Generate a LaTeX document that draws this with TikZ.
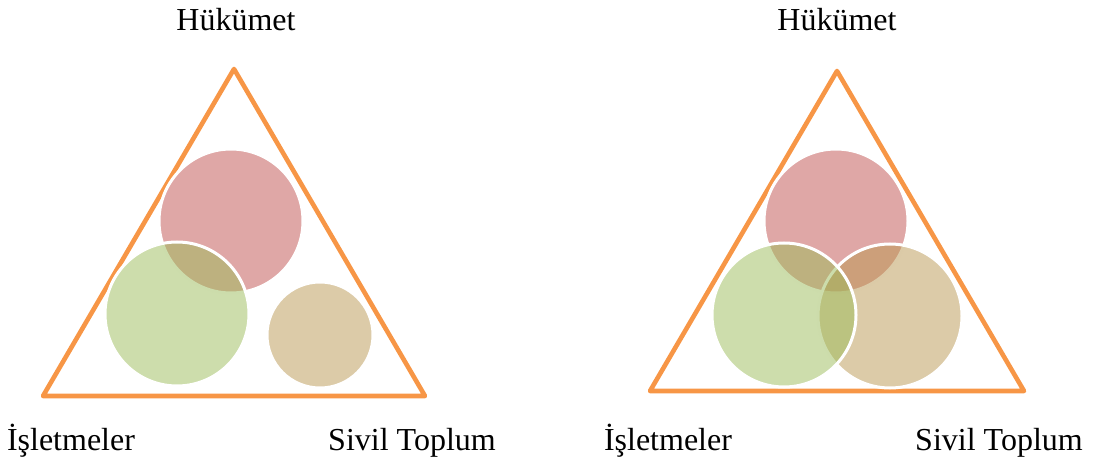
\documentclass[tikz,border=0pt]{standalone}
\usepackage{fontspec}
\setmainfont{Liberation Serif}
\definecolor{colorTri}{HTML}{F79646}
\definecolor{colorGov}{HTML}{C0504D}
\definecolor{colorBiz}{HTML}{9BBB59}
\definecolor{colorCiv}{HTML}{B99751}
\usepackage{tikz}
\tikzset{
  actor/.style={font=\fontsize{16}{19}\selectfont,anchor=base,inner sep=0pt},
  tri/.style={draw=colorTri,line width=2.3pt,line join=round},
  blob/.style={fill opacity=0.5,draw=white,line width=1.5pt},
}

\begin{document}
\begin{tikzpicture}[x=0.5pt,y=-0.5pt]
   \useasboundingbox (0,0) rectangle (1093,470);

   % NODES
   \coordinate (r0) at (234,  69); % apex
   \coordinate (s0) at (43,  396); % corner
   \coordinate (s1) at (425, 396); % corner

   % DRAW TRIANGLE
   \path[tri] (r0)--(s0)--(s1)--cycle;

   % CIRCLES
   \coordinate (g0) at (231, 221); % gov
   \coordinate (b0) at (177, 314); % biz
   \coordinate (v0) at (320, 335); % civil
   \path[blob,fill=colorGov] (g0) circle[radius=72];
   \path[blob,fill=colorCiv] (v0) circle[radius=53];
   \path[blob,fill=colorBiz] (b0) circle[radius=72];

   % LABELS
   \node[actor] (h0) at (236, 31) {Hükümet};
   \node[actor] (i0) at (71, 451) {İşletmeler};
   \node[actor] (t0) at (412, 451) {Sivil Toplum};

   % NODES
   \coordinate (r1) at (837,  71); % apex
   \coordinate (s10) at (650, 391); % corner
   \coordinate (s11) at (1024, 391); % corner

   % DRAW TRIANGLE
   \path[tri] (r1)--(s10)--(s11)--cycle;

   % CIRCLES
   \coordinate (g1) at (836, 221); % gov
   \coordinate (b1) at (784, 315); % biz
   \coordinate (v1) at (890, 316); % civil
   \path[blob,fill=colorGov] (g1) circle[radius=72];
   \path[blob,fill=colorCiv] (v1) circle[radius=72];
   \path[blob,fill=colorBiz] (b1) circle[radius=72];

   % LABELS
   \node[actor] (h1) at (837, 31) {Hükümet};
   \node[actor] (i1) at (668, 451) {İşletmeler};
   \node[actor] (t1) at (999, 451) {Sivil Toplum};

\end{tikzpicture}
\end{document}
